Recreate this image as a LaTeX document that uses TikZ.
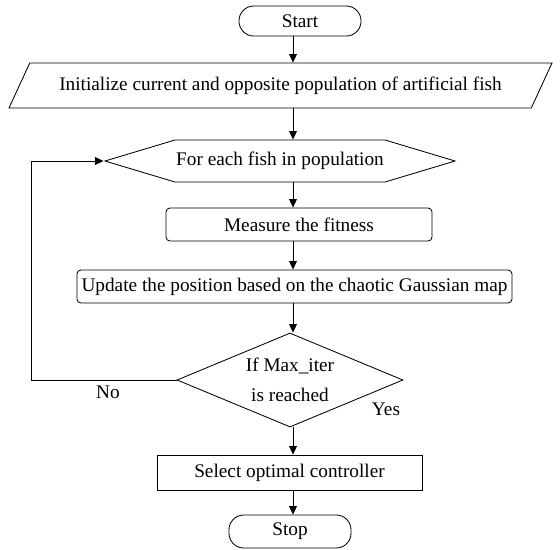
\documentclass[tikz,border=0pt]{standalone}
\usepackage{fontspec}
\setmainfont{Liberation Serif}
\usetikzlibrary{
  arrows.meta,
  shapes.geometric,
  shapes.symbols,
}

\tikzset{
  base/.style={draw, line width=0.6pt, inner sep=0pt, align=center},
  term/.style={base, rounded corners=0.37cm, minimum width=3.05cm, minimum height=0.75cm},
  io/.style={base, trapezium, trapezium left angle=44, trapezium right angle=136,
    trapezium stretches=true, minimum width=13.6cm, minimum height=1.125cm},
  loopbox/.style={base, signal, signal to=west and east, signal pointer angle=33.4,
    minimum width=8.75cm, minimum height=1.05cm},
  proc/.style={base, rounded corners=0.1cm, minimum height=0.825cm},
  decide/.style={base, diamond, aspect=2.4, minimum width=5.65cm, minimum height=2.35cm},
  arr/.style={line width=0.6pt, -{Triangle[length=6pt,width=5.5pt]}},
}

\begin{document}
\begin{tikzpicture}[x=0.025cm, y=-0.025cm, font=\fontsize{13.7}{16.5}\selectfont]
\clip (0,0) rectangle (560,549);

\node[term] (start) at (300,21) {Start};
\node[io] (init) at (280.5,85.5) {Initialize current and opposite population of artificial fish};
\node[loopbox] (each) at (280,161) {For each fish in population};
\node[proc, minimum width=6.65cm] (fitn) at (299,224.5) {Measure the fitness};
\node[proc, minimum width=10.875cm] (upd) at (294.5,286.5) {Update the position based on the chaotic Gaussian map};
\node[decide] (iter) at (290,380) {If Max\_iter\\[5pt]is reached};
\node[base, minimum width=6.625cm, minimum height=0.875cm] (sel) at (289.5,472.5) {Select optimal controller};
\node[term, minimum height=0.825cm] (stop) at (290,531.5) {Stop};

\coordinate (col) at (293,0);
\coordinate (back) at (31,0);

\draw[arr] (start.south -| col) -- (init.north -| col);
\draw[arr] (init.south -| col) -- (each.north -| col);
\draw[arr] (each.south -| col) -- (fitn.north -| col);
\draw[arr] (fitn.south -| col) -- (upd.north -| col);
\draw[arr] (upd.south -| col) -- (iter.north -| col);
\draw[arr] (iter.south -| col) -- (sel.north -| col);
\draw[arr] (sel.south -| col) -- (stop.north -| col);
\draw[arr] (iter.west) -- (iter.west -| back) -- (each.west -| back) -- (each.west);

\node (no) at (108,392) {No};
\node (yes) at (386,409) {Yes};
\end{tikzpicture}
\end{document}
